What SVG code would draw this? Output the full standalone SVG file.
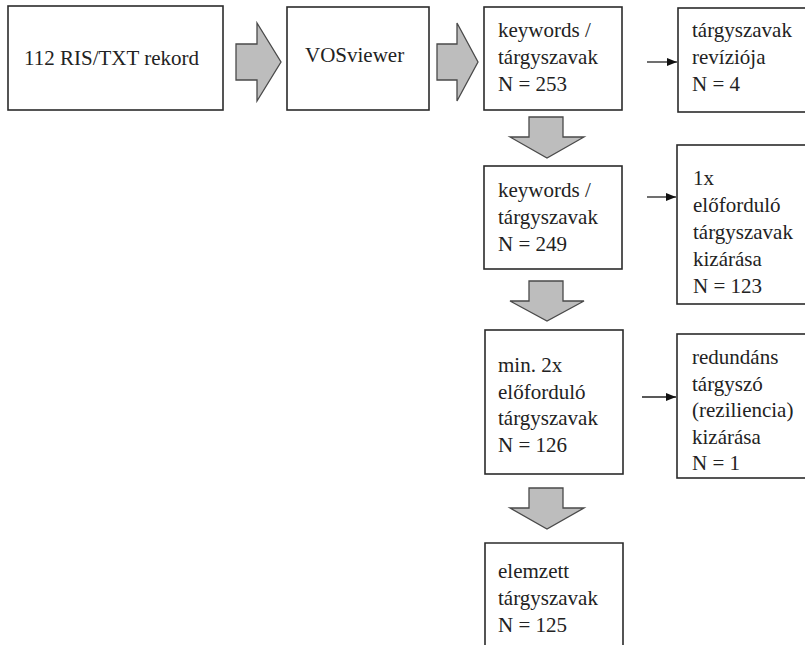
<svg xmlns="http://www.w3.org/2000/svg" width="805" height="645" viewBox="0 0 805 645">
<style>
.box{fill:#fff;stroke:#2b2b2b;stroke-width:1.6}
.blk{fill:#bdbdbd;stroke:#4a4a4a;stroke-width:1.3;stroke-linejoin:miter}
.t{font-family:"Liberation Serif","Times New Roman",serif;font-size:21px;fill:#222}
.ln{stroke:#222;stroke-width:1.3;fill:none}
</style>
<defs>
<marker id="ah" viewBox="0 0 10 8" refX="10" refY="4" markerWidth="10" markerHeight="8" markerUnits="userSpaceOnUse" orient="auto">
<path d="M0,0 L10,4 L0,8 Z" fill="#111"/>
</marker>
</defs>
<rect width="805" height="645" fill="#fff"/>
<g id="connectors">
<path class="blk" d="M236,44 H257 V23 L281,62 L257,101 V80 H236 Z"/>
<path class="blk" d="M437,44 H457 V23 L478,62 L457,101 V80 H437 Z"/>
<path class="blk" d="M529,117 H563 V137 H584 L547,158 L510,137 H529 Z"/>
<path class="blk" d="M529,281 H563 V301 H584 L547,321 L510,301 H529 Z"/>
<path class="blk" d="M529,488 H563 V508 H584 L547,529 L510,508 H529 Z"/>
<line class="ln" x1="647" y1="62" x2="677" y2="62" marker-end="url(#ah)"/>
<line class="ln" x1="647" y1="197" x2="676" y2="197" marker-end="url(#ah)"/>
<line class="ln" x1="642" y1="397" x2="676" y2="397" marker-end="url(#ah)"/>
</g>
<g id="n1"><rect class="box" x="8" y="6" width="215" height="104"/><text class="t" x="24" y="65">112 RIS/TXT rekord</text></g>
<g id="n2"><rect class="box" x="287" y="7" width="142" height="103"/><text class="t" x="305" y="62">VOSviewer</text></g>
<g id="n3"><rect class="box" x="484" y="7" width="138" height="103"/><text class="t" x="498" y="37">keywords /</text><text class="t" x="498" y="64">tárgyszavak</text><text class="t" x="498" y="91">N = 253</text></g>
<g id="n4"><rect class="box" x="678" y="8" width="140" height="104"/><text class="t" x="692" y="37">tárgyszavak</text><text class="t" x="692" y="64">revíziója</text><text class="t" x="692" y="91">N = 4</text></g>
<g id="n5"><rect class="box" x="484" y="166" width="138" height="103"/><text class="t" x="498" y="197">keywords /</text><text class="t" x="498" y="224">tárgyszavak</text><text class="t" x="498" y="251">N = 249</text></g>
<g id="n6"><rect class="box" x="677" y="145" width="140" height="159"/><text class="t" x="693" y="185">1x</text><text class="t" x="693" y="212">előforduló</text><text class="t" x="693" y="239">tárgyszavak</text><text class="t" x="693" y="266">kizárása</text><text class="t" x="693" y="293">N = 123</text></g>
<g id="n7"><rect class="box" x="485" y="330" width="138" height="144"/><text class="t" x="498" y="372">min. 2x</text><text class="t" x="498" y="399">előforduló</text><text class="t" x="498" y="425">tárgyszavak</text><text class="t" x="498" y="452">N = 126</text></g>
<g id="n8"><rect class="box" x="677" y="334" width="140" height="144"/><text class="t" x="692" y="364">redundáns</text><text class="t" x="692" y="391">tárgyszó</text><text class="t" x="692" y="417">(reziliencia)</text><text class="t" x="692" y="444">kizárása</text><text class="t" x="692" y="470">N = 1</text></g>
<g id="n9"><path class="box" d="M485,650 V543 H623 V650"/><text class="t" x="498" y="578">elemzett</text><text class="t" x="498" y="605">tárgyszavak</text><text class="t" x="498" y="632">N = 125</text></g>
</svg>
